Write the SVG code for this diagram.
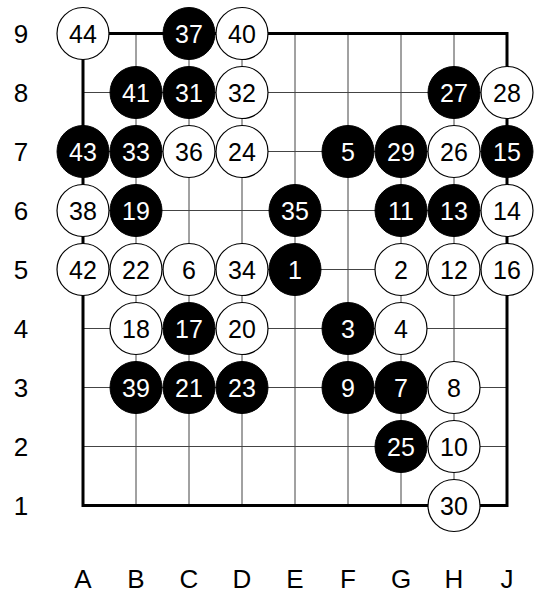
<svg xmlns="http://www.w3.org/2000/svg" width="534" height="594" viewBox="0 0 534 594">
<style>
.g{stroke:#444;stroke-width:1;fill:none}
.b{stroke:#000;stroke-width:3;fill:none}
.lab{font-family:"Liberation Sans",Arial,sans-serif;font-size:26px;fill:#000;text-anchor:middle}
.sb circle{fill:#000;stroke:#000;stroke-width:1}
.sw circle{fill:#fff;stroke:#000;stroke-width:1.2}
.sb text,.sw text{font-family:"Liberation Sans",Arial,sans-serif;font-size:25px;text-anchor:middle}
.sb text{fill:#fff}
.sw text{fill:#000}
</style>
<rect width="534" height="594" fill="#fff"/>
<g id="grid">
<path class="g" d="M136 33.5V505.5M189 33.5V505.5M242 33.5V505.5M295 33.5V505.5M348 33.5V505.5M401 33.5V505.5M454 33.5V505.5M83 92.5H507M83 151.5H507M83 210.5H507M83 269.5H507M83 328.5H507M83 387.5H507M83 446.5H507"/>
<rect class="b" x="83" y="33.5" width="424" height="472"/>
</g>
<g id="labels">
<text class="lab" x="21" y="43">9</text>
<text class="lab" x="21" y="102">8</text>
<text class="lab" x="21" y="161">7</text>
<text class="lab" x="21" y="220">6</text>
<text class="lab" x="21" y="279">5</text>
<text class="lab" x="21" y="338">4</text>
<text class="lab" x="21" y="397">3</text>
<text class="lab" x="21" y="456">2</text>
<text class="lab" x="21" y="515">1</text>
<text class="lab" x="83" y="588">A</text>
<text class="lab" x="136" y="588">B</text>
<text class="lab" x="189" y="588">C</text>
<text class="lab" x="242" y="588">D</text>
<text class="lab" x="295" y="588">E</text>
<text class="lab" x="348" y="588">F</text>
<text class="lab" x="401" y="588">G</text>
<text class="lab" x="454" y="588">H</text>
<text class="lab" x="507" y="588">J</text>
</g>
<g id="stones">
<g id="s44" class="sw"><circle cx="83" cy="33.5" r="26"/><text x="83" y="42.5">44</text></g>
<g id="s37" class="sb"><circle cx="189" cy="33.5" r="26"/><text x="189" y="42.5">37</text></g>
<g id="s40" class="sw"><circle cx="242" cy="33.5" r="26"/><text x="242" y="42.5">40</text></g>
<g id="s41" class="sb"><circle cx="136" cy="92.5" r="26"/><text x="136" y="101.5">41</text></g>
<g id="s31" class="sb"><circle cx="189" cy="92.5" r="26"/><text x="189" y="101.5">31</text></g>
<g id="s32" class="sw"><circle cx="242" cy="92.5" r="26"/><text x="242" y="101.5">32</text></g>
<g id="s27" class="sb"><circle cx="454" cy="92.5" r="26"/><text x="454" y="101.5">27</text></g>
<g id="s28" class="sw"><circle cx="507" cy="92.5" r="26"/><text x="507" y="101.5">28</text></g>
<g id="s43" class="sb"><circle cx="83" cy="151.5" r="26"/><text x="83" y="160.5">43</text></g>
<g id="s33" class="sb"><circle cx="136" cy="151.5" r="26"/><text x="136" y="160.5">33</text></g>
<g id="s36" class="sw"><circle cx="189" cy="151.5" r="26"/><text x="189" y="160.5">36</text></g>
<g id="s24" class="sw"><circle cx="242" cy="151.5" r="26"/><text x="242" y="160.5">24</text></g>
<g id="s5" class="sb"><circle cx="348" cy="151.5" r="26"/><text x="348" y="160.5">5</text></g>
<g id="s29" class="sb"><circle cx="401" cy="151.5" r="26"/><text x="401" y="160.5">29</text></g>
<g id="s26" class="sw"><circle cx="454" cy="151.5" r="26"/><text x="454" y="160.5">26</text></g>
<g id="s15" class="sb"><circle cx="507" cy="151.5" r="26"/><text x="507" y="160.5">15</text></g>
<g id="s38" class="sw"><circle cx="83" cy="210.5" r="26"/><text x="83" y="219.5">38</text></g>
<g id="s19" class="sb"><circle cx="136" cy="210.5" r="26"/><text x="136" y="219.5">19</text></g>
<g id="s35" class="sb"><circle cx="295" cy="210.5" r="26"/><text x="295" y="219.5">35</text></g>
<g id="s11" class="sb"><circle cx="401" cy="210.5" r="26"/><text x="401" y="219.5">11</text></g>
<g id="s13" class="sb"><circle cx="454" cy="210.5" r="26"/><text x="454" y="219.5">13</text></g>
<g id="s14" class="sw"><circle cx="507" cy="210.5" r="26"/><text x="507" y="219.5">14</text></g>
<g id="s42" class="sw"><circle cx="83" cy="269.5" r="26"/><text x="83" y="278.5">42</text></g>
<g id="s22" class="sw"><circle cx="136" cy="269.5" r="26"/><text x="136" y="278.5">22</text></g>
<g id="s6" class="sw"><circle cx="189" cy="269.5" r="26"/><text x="189" y="278.5">6</text></g>
<g id="s34" class="sw"><circle cx="242" cy="269.5" r="26"/><text x="242" y="278.5">34</text></g>
<g id="s1" class="sb"><circle cx="295" cy="269.5" r="26"/><text x="295" y="278.5">1</text></g>
<g id="s2" class="sw"><circle cx="401" cy="269.5" r="26"/><text x="401" y="278.5">2</text></g>
<g id="s12" class="sw"><circle cx="454" cy="269.5" r="26"/><text x="454" y="278.5">12</text></g>
<g id="s16" class="sw"><circle cx="507" cy="269.5" r="26"/><text x="507" y="278.5">16</text></g>
<g id="s18" class="sw"><circle cx="136" cy="328.5" r="26"/><text x="136" y="337.5">18</text></g>
<g id="s17" class="sb"><circle cx="189" cy="328.5" r="26"/><text x="189" y="337.5">17</text></g>
<g id="s20" class="sw"><circle cx="242" cy="328.5" r="26"/><text x="242" y="337.5">20</text></g>
<g id="s3" class="sb"><circle cx="348" cy="328.5" r="26"/><text x="348" y="337.5">3</text></g>
<g id="s4" class="sw"><circle cx="401" cy="328.5" r="26"/><text x="401" y="337.5">4</text></g>
<g id="s39" class="sb"><circle cx="136" cy="387.5" r="26"/><text x="136" y="396.5">39</text></g>
<g id="s21" class="sb"><circle cx="189" cy="387.5" r="26"/><text x="189" y="396.5">21</text></g>
<g id="s23" class="sb"><circle cx="242" cy="387.5" r="26"/><text x="242" y="396.5">23</text></g>
<g id="s9" class="sb"><circle cx="348" cy="387.5" r="26"/><text x="348" y="396.5">9</text></g>
<g id="s7" class="sb"><circle cx="401" cy="387.5" r="26"/><text x="401" y="396.5">7</text></g>
<g id="s8" class="sw"><circle cx="454" cy="387.5" r="26"/><text x="454" y="396.5">8</text></g>
<g id="s25" class="sb"><circle cx="401" cy="446.5" r="26"/><text x="401" y="455.5">25</text></g>
<g id="s10" class="sw"><circle cx="454" cy="446.5" r="26"/><text x="454" y="455.5">10</text></g>
<g id="s30" class="sw"><circle cx="454" cy="505.5" r="26"/><text x="454" y="514.5">30</text></g>
</g>
</svg>
